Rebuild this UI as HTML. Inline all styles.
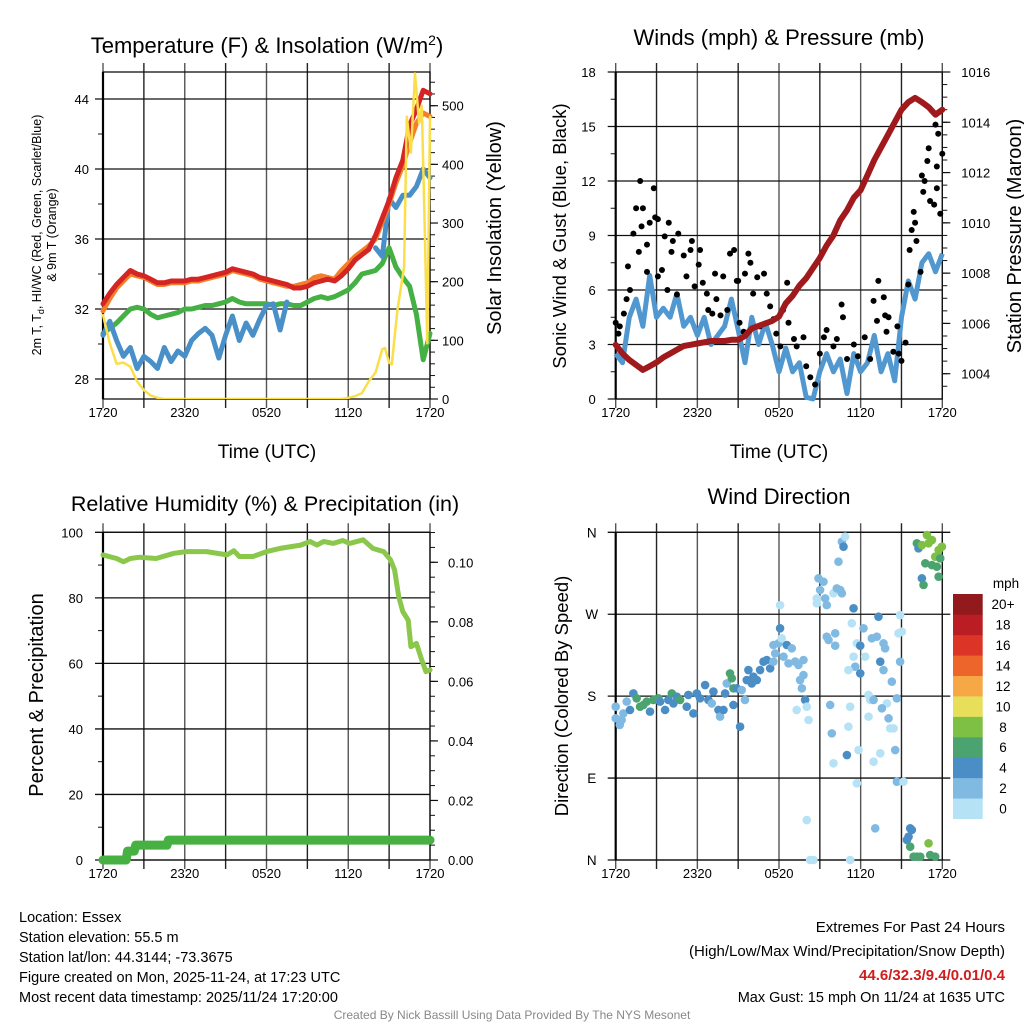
<!DOCTYPE html>
<html><head><meta charset="utf-8"><style>
html,body{margin:0;padding:0;background:#fff;}
svg{display:block;font-family:"Liberation Sans",sans-serif;}
</style></head><body>
<svg id="s" width="1024" height="1024" viewBox="0 0 1024 1024">
<g id="g"></g>
</svg>
<script>
// ---------- data ----------
const hh = [0,0.5,1,1.5,2,2.5,3,3.5,4,4.5,5,5.5,6,6.5,7,7.5,8,8.5,9,9.5,10,10.5,11,11.5,12,12.5,13,13.5,14,14.5,15,15.5,16,16.5,17,17.5,18,18.5,19,19.5,20,20.5,21,21.5,22,22.5,23,23.5,24];
const tempRed = [32.3,32.9,33.4,33.8,34.2,34.0,33.9,33.7,33.5,33.5,33.6,33.6,33.6,33.7,33.7,33.8,33.9,34.0,34.1,34.3,34.2,34.1,34.0,33.8,33.7,33.6,33.5,33.4,33.2,33.2,33.3,33.5,33.6,33.7,33.6,33.9,34.3,34.8,35.1,35.4,36.2,37.2,38.2,39.5,40.5,42.5,43.4,44.5,44.3];
const tempOrange = [31.9,32.6,33.2,33.6,34.0,33.9,33.8,33.6,33.4,33.4,33.5,33.5,33.5,33.6,33.6,33.7,33.8,33.9,34.0,34.2,34.1,34.0,33.9,33.7,33.6,33.5,33.4,33.3,33.3,33.4,33.5,33.8,33.9,33.8,33.7,34.2,34.6,35.0,35.3,35.6,36.0,37.0,38.0,39.2,40.2,41.5,42.6,43.2,43.0];
const dewGreen = [30.6,30.9,31.2,31.6,32.0,32.1,32.0,31.7,31.5,31.6,31.7,31.8,32.0,32.0,32.1,32.2,32.2,32.3,32.4,32.6,32.4,32.3,32.3,32.3,32.3,32.2,32.3,32.3,32.2,32.2,32.4,32.6,32.7,32.6,32.7,32.9,33.1,33.5,34.0,34.1,34.2,34.6,35.5,34.4,33.8,33.3,31.7,29.1,30.6];
const chillBlue = [30.5,31.3,30.2,29.3,29.8,28.6,29.3,29.0,28.6,29.8,29.0,29.6,29.3,30.2,30.6,30.9,30.5,29.2,30.5,31.6,30.2,31.2,30.5,31.4,32.2,32.3,30.8,32.4,null,null,31.6,null,31.2,null,null,null,null,31.6,null,null,35.5,35.0,38.3,37.8,38.5,38.5,39.0,40.0,39.5];
const solarH = [0,0.5,1,1.5,2,2.5,3,3.5,4,4.5,17.5,18,18.5,19,19.5,20,20.5,20.7,21,21.2,21.6,22.1,22.3,22.6,22.9,23.2,23.4,23.6,23.8,24];
const solarVal = [143,95,60,62,55,30,15,6,2,0,0,2,5,10,30,45,85,87,62,59,150,225,481,420,555,470,500,300,95,481];
const windBlue = [2.5,2.0,4.5,5.5,4.0,6.8,4.5,5.0,4.5,5.8,4.0,4.5,3.5,4.5,3.0,3.5,4.0,5.5,3.8,2.0,4.5,3.0,4.2,3.0,1.5,2.8,1.5,2.0,0.1,0.0,1.5,2.5,1.5,2.2,0.3,2.5,1.5,2.0,3.5,1.5,2.5,1.0,4.5,6.5,5.5,7.5,8.0,7.0,8.0];
const pressure = [1005.15,1004.8,1004.55,1004.35,1004.15,1004.3,1004.45,1004.65,1004.8,1004.95,1005.1,1005.15,1005.2,1005.25,1005.3,1005.3,1005.3,1005.35,1005.35,1005.5,1005.8,1005.9,1006.0,1006.1,1006.27,1006.8,1007.1,1007.5,1007.8,1008.2,1008.6,1009.1,1009.5,1010.1,1010.5,1011.0,1011.3,1011.9,1012.5,1013.0,1013.5,1014.0,1014.5,1014.8,1014.97,1014.8,1014.6,1014.3,1014.5];
const gustH = [0,0.3,0.2,0.6,0.8,0.9,1.05,1.3,1.5,1.7,1.8,2.0,1.9,2.3,2.3,2.5,2.8,2.9,3.1,3.1,3.4,3.6,3.8,3.9,4.1,4.2,4.5,4.6,5.0,5.2,5.5,5.6,5.8,6.1,6.2,6.4,6.7,6.8,7.1,7.3,7.4,7.7,7.9,8.2,8.4,8.7,8.9,9.0,9.1,9.4,9.5,9.75,9.9,10.1,10.4,10.6,10.9,11.1,11.35,11.6,11.8,12.1,12.3,12.6,12.7,13.1,13.3,13.8,14.0,14.3,14.65,15.0,15.3,15.5,16.0,16.25,16.6,16.7,17.0,17.5,17.8,18.3,18.7,18.95,19.2,19.3,19.7,19.8,19.9,20.05,20.4,20.7,20.8,21.0,21.3,21.5,21.6,21.75,22.0,21.9,22.1,22.4,22.5,22.6,22.7,22.9,23.0,23.1,23.4,23.5,23.6,23.6,23.7,23.85,24.0];
const gustVal = [4.2,4.0,3.6,4.7,5.5,7.3,6.0,9.1,10.5,8.1,12.0,10.5,9.5,8.5,7.0,9.7,11.6,10.0,9.9,6.75,7.1,8.95,6.0,9.7,8.1,8.7,5.75,9.1,7.9,6.75,8.2,8.7,6.2,7.4,8.2,6.4,5.8,4.9,4.7,6.9,5.5,4.6,6.75,4.9,8.0,8.2,6.5,6.5,4.2,3.7,6.9,8.0,7.5,5.8,6.7,4.0,6.9,5.8,5.1,4.4,3.6,2.9,4.9,6.4,4.2,3.3,2.9,3.4,1.8,1.2,0.8,2.5,3.4,3.8,2.9,3.3,5.2,4.5,2.2,3.0,2.35,3.4,2.2,5.4,4.3,6.5,5.6,4.6,3.7,4.5,2.6,4.0,2.5,2.1,3.1,6.3,8.2,9.3,9.7,10.3,8.7,7.0,12.3,11.4,12.0,13.1,13.8,10.9,10.7,15.1,12.8,11.6,14.6,10.2,13.5];
const rhH = [0,1.0,1.5,2,2.7,3.9,5.2,6.1,7.6,9.1,9.6,10,11,12,13,14.5,15.2,15.7,16.2,16.9,17.6,18.1,19.1,19.8,20.6,21.1,21.4,21.7,22.0,22.4,22.6,23,23.4,23.7,24];
const rhVal = [93.1,92,91,92,92.4,92,93.6,94.1,94.1,93.1,94.4,92.6,92.6,94.1,95.1,96.1,97.2,96.1,97.2,96.6,97.5,96.6,97.7,95.1,94.1,91.6,88.5,80.4,75.8,73.2,65.1,66.1,61,57.5,58];
const precipH = [0,1.7,1.8,2.3,2.4,4.7,4.8,24];
const precipVal = [0,0,0.003,0.003,0.005,0.005,0.0067,0.0067];
// wind direction observations: hour, degrees, speed (mph)
const dirH = [0,0,0.3,0.56,0.44,0.81,1.05,1.3,1.54,1.79,2.03,2.28,2.52,2.77,3.14,3.26,3.63,3.87,4.12,4.24,4.49,4.73,5.22,5.34,5.71,5.96,6.2,6.57,6.81,7.06,7.18,7.55,7.67,7.92,8.04,8.16,8.4,8.53,8.65,8.65,8.9,9.14,9.26,9.5,9.63,9.75,10.0,10.12,10.37,10.61,10.86,11.1,11.35,11.59,11.72,11.59,11.96,12.08,12.2,12.57,12.33,12.7,12.94,13.19,13.43,13.8,13.8,13.55,13.68,13.92,14.04,14.17,13.3,12.08,
 14.9,15.02,15.27,14.78,14.78,15.51,15.39,16.0,16.25,16.5,16.62,16.37,16.62,16.86,16.74,15.51,15.64,16.13,16.13,17.48,17.35,17.72,17.97,18.21,17.48,18.33,17.6,17.1,17.97,15.76,15.88,16.0,16.99,17.23,17.1,17.84,17.72,18.58,18.7,18.95,18.58,18.82,19.19,19.31,19.68,19.8,19.44,19.68,19.93,19.56,20.05,20.29,20.17,20.42,20.66,20.54,19.44,18.95,20.9,21.03,20.78,20.9,20.66,21.15,19.07,14.04,14.29,14.53,17.23,
 22.13,22.25,22.5,22.87,22.99,23.24,22.75,23.24,23.6,23.48,23.73,23.97,23.85,23.73,22.5,22.62,21.64,21.76,21.52,21.4,21.64,21.89,22.13,22.38,22.99,23.11,23.48];
const dirDeg = [155.6,168.4,148.3,161,153.8,174,164.8,183,177.6,168.4,170.3,174,163,175.8,177.6,174,164.8,175.8,183,172,179.4,175.8,168.4,181.3,161,183,177.6,192.2,175.8,172,185,164.8,157.5,164.8,183,194,205,199.6,188.6,170.3,188.6,146.5,186.7,175.8,197.7,208.7,194,201.4,197.7,208.7,217.9,219.7,210.5,217.9,227,236.2,238,254.5,243.5,236.2,223.4,216,232.5,218,214.2,219.7,203.2,197.7,188.6,175.8,168.4,153.8,164.8,280,
 309.4,296.6,305.7,287.4,282,280,287.4,293,298.4,296.6,293,327.7,349.7,355.2,344.2,245.3,241.7,249,235.4,276.5,260,238,235.4,254.5,223.4,223.4,212.4,208.7,205,170.3,139.1,106.2,115.3,168.4,146.5,120.8,84.2,181.3,175.8,175.8,157.5,243.5,245.3,267.3,238,232.5,217.9,208.7,172,166.6,155.6,195.9,144.6,144.6,177.6,120.8,117.2,108,269.1,250.8,249,217.9,86,86,34.8,43.9,0,0,0,
 347.9,342.4,346,357,347.9,351.5,325.9,324,322.2,333.2,340.5,344.2,331.4,311.2,309.4,302.1,34.8,33,25.6,22,14.6,3.7,3.7,3.7,18.3,5.5,3.7];
const dirSpd = [3,3,3,3,3,3,5,5,7,7,7,7,5,7,7,5,5,5,7,5,5,7,5,5,5,5,5,5,5,3,5,5,3,5,5,3,7,7,7,5,5,5,3,3,5,5,5,5,5,5,5,5,5,3,3,3,3,5,1,5,3,3,3,3,3,3,3,3,3,5,1,1,1,1,
 3,3,3,1,1,3,3,1,3,3,3,3,3,1,5,3,3,3,3,5,1,1,5,3,1,1,3,1,5,3,3,1,5,1,1,1,1,1,1,3,1,3,3,5,3,3,5,3,1,3,3,3,1,1,3,3,1,1,1,1,1,3,3,1,3,1,1,1,1,
 7,5,9,9,9,9,7,7,7,9,9,9,7,7,5,7,5,5,5,5,7,7,7,7,9,7,7];
const binColors = ['#b6e2f6','#80bae3','#4b8ec5','#4ba46f','#7dc043','#e7df5a','#f5a845','#ee652b','#dc3528','#bb1d25','#921a1d'];
const binLabels = ['0','2','4','6','8','10','12','14','16','18','20+'];
const timeTickLabels = ['1720','2320','0520','1120','1720'];

// ---------- helpers ----------
const NS='http://www.w3.org/2000/svg';
const G=document.getElementById('g');
function mk(tag,attrs,parent){const e=document.createElementNS(NS,tag);for(const k in attrs)e.setAttribute(k,attrs[k]);(parent||G).appendChild(e);return e;}
function txt(x,y,s,size,anchor,extra){const t=mk('text',Object.assign({x:x,y:y,'font-size':size,'text-anchor':anchor||'middle',fill:'#000'},extra||{}));t.textContent=s;return t;}
function scale(d0,d1,r0,r1){return v=>r0+(v-d0)*(r1-r0)/(d1-d0);}
function linePath(xs,ys,fx,fy){let d='',pen=false;for(let i=0;i<xs.length;i++){if(ys[i]===null||ys[i]===undefined){pen=false;continue;}d+=(pen?'L':'M')+fx(xs[i]).toFixed(1)+','+fy(ys[i]).toFixed(1);pen=true;}return d;}

const X0=103,X1=430,RX0=615.7,RX1=942.3;
function frame(name,x0,x1,y0,y1,leftTicks,fyL,leftMinor,rightTicks,fyR,rightMinor){
  const g=mk('g',{});
  
  
  const fx=scale(0,24,x0,x1);
  for(let k=0;k<=8;k++){const x=fx(k*3);
    const l=mk('line',{x1:x,x2:x,y1:y0-9,y2:y1+9,stroke:(k%2?'#222':'#555'),'stroke-width':1.4},g);
    
    }
  leftTicks.forEach(v=>{const y=fyL(v);mk('line',{x1:x0-8,x2:x1+(rightTicks?0:8),y1:y,y2:y,stroke:'#111','stroke-width':1.3},g);});
  (leftMinor||[]).forEach(v=>{const y=fyL(v);mk('line',{x1:x0-5,x2:x0,y1:y,y2:y,stroke:'#111','stroke-width':1},g);});
  if(rightTicks){rightTicks.forEach(v=>{const y=fyR(v);mk('line',{x1:x1,x2:x1+8,y1:y,y2:y,stroke:'#111','stroke-width':1.2},g);});
    (rightMinor||[]).forEach(v=>{const y=fyR(v);mk('line',{x1:x1,x2:x1+5,y1:y,y2:y,stroke:'#111','stroke-width':1},g);});}
  mk('rect',{x:x0,y:y0,width:x1-x0,height:y1-y0,fill:'none',stroke:'#111','stroke-width':1.3},g);
  mk('line',{x1:x0,x2:x0,y1:y0,y2:y1,stroke:'#000','stroke-width':2.2},g);
  timeTickLabels.forEach((s,i)=>{const t=txt(fx(i*6),y1+18,s,13);});
  return fx;
}
function range(a,b,s){const r=[];for(let v=a;v<=b+1e-9;v+=s)r.push(+v.toFixed(4));return r;}

// ---------- Panel 1: Temperature ----------
(function(){
  const y0=72,y1=399;
  const fyT=scale(28,44,379,99), fyS=scale(0,500,399,105.7);
  const fx=frame('temperature',X0,X1,y0,y1,[28,32,36,40,44],fyT,[30,34,38,42],range(0,500,100),fyS,range(0,540,20));
  [28,32,36,40,44].forEach(v=>{const t=txt(X0-14,fyT(v)+5,String(v),13,'end');});
  range(0,500,100).forEach(v=>{const t=txt(X1+12,fyS(v)+5,String(v),13,'start');});
  const cp=mk('clipPath',{id:'c1'});mk('rect',{x:X0-4,y:y0,width:X1-X0+8,height:y1-y0},cp);
  const lines=[['dewpoint-line',hh,dewGreen,fyT,'#45b043',5],['wind-chill-line',hh,chillBlue,fyT,'#4a90c8',5],['temp-9m-line',hh,tempOrange,fyT,'#f47f2b',5],['temp-2m-line',hh,tempRed,fyT,'#d42423',5],['solar-line',solarH,solarVal,fyS,'#fadf4a',2.5]];
  lines.forEach(L=>{const p=mk('path',{d:linePath(L[1],L[2],fx,L[3]),fill:'none',stroke:L[4],'stroke-width':L[5],'stroke-linejoin':'round','stroke-linecap':'round','clip-path':'url(#c1)'});
    });
  const t=txt(267,53,'Temperature (F) & Insolation (W/m',22);
  const ts=mk('tspan',{dy:-8,'font-size':14},t);ts.textContent='2';const te=mk('tspan',{dy:8},t);te.textContent=')';
  const yl=mk('text',{transform:'translate(41,235) rotate(-90)','font-size':12.5,'text-anchor':'middle'});
  
  yl.innerHTML='2m T, T<tspan font-size="9" dy="3">d</tspan><tspan dy="-3">, HI/WC (Red, Green, Scarlet/Blue)</tspan>';
  const yl2=txt(0,0,'& 9m T (Orange)',12.5,'middle',{transform:'translate(56,235) rotate(-90)'});
  const yr=txt(0,0,'Solar Insolation (Yellow)',20,'middle',{transform:'translate(501,228) rotate(-90)'});
  const xl=txt(267,458,'Time (UTC)',19);
})();

// ---------- Panel 2: Winds ----------
(function(){
  const y0=72,y1=399;
  const fyW=scale(0,18,399,72), fyP=scale(1004,1016,373.7,72);
  const fx=frame('winds',RX0,RX1,y0,y1,range(0,18,3),fyW,range(1.5,16.5,3),range(1004,1016,2),fyP,range(1003.5,1016,0.5));
  range(0,18,3).forEach(v=>{const t=txt(RX0-20,fyW(v)+5,String(v),13,'end');});
  range(1004,1016,2).forEach(v=>{const t=txt(RX1+19,fyP(v)+5,String(v),13,'start');});
  const p=mk('path',{d:linePath(hh,windBlue,fx,fyW),fill:'none',stroke:'#5298d0','stroke-width':5,'stroke-linejoin':'round'});
  
  gustH.forEach((h,i)=>{const c=mk('circle',{cx:fx(h),cy:fyW(gustVal[i]),r:3,fill:'#000'});
    });
  const pp=mk('path',{d:linePath(hh,pressure,fx,fyP),fill:'none',stroke:'#a01a1d','stroke-width':6,'stroke-linejoin':'round','stroke-linecap':'round'});
  
  const t=txt(779,45,'Winds (mph) & Pressure (mb)',22);
  const yl=txt(0,0,'Sonic Wind & Gust (Blue, Black)',18.5,'middle',{transform:'translate(566,236) rotate(-90)'});
  const yr=txt(0,0,'Station Pressure (Maroon)',20,'middle',{transform:'translate(1021,236) rotate(-90)'});
  const xl=txt(779,458,'Time (UTC)',19);
})();

// ---------- Panel 3: RH ----------
(function(){
  const y0=532.3,y1=860;
  const fyR=scale(0,100,860,532.3), fyP=scale(0,0.1,860,562.3);
  const fx=frame('humidity',X0,X1,y0,y1,range(0,100,20),fyR,range(10,90,20),range(0,0.1,0.02),fyP,range(0,0.11,0.005));
  range(0,100,20).forEach(v=>{const t=txt(X0-20,fyR(v)+5,String(v),13,'end');});
  range(0,0.1,0.02).forEach(v=>{const t=txt(X1+18,fyP(v)+5,v.toFixed(2),13,'start');});
  const rp=mk('path',{d:linePath(rhH,rhVal,fx,fyR),fill:'none',stroke:'#8ac74a','stroke-width':5,'stroke-linejoin':'round','stroke-linecap':'round'});
  
  const pp=mk('path',{d:linePath(precipH,precipVal,fx,fyP),fill:'none',stroke:'#46b043','stroke-width':9,'stroke-linejoin':'round','stroke-linecap':'round'});
  
  const t=txt(265,511,'Relative Humidity (%) & Precipitation (in)',21.5);
  const yl=txt(0,0,'Percent & Precipitation',20,'middle',{transform:'translate(43,695) rotate(-90)'});
})();

// ---------- Panel 4: Wind direction ----------
(function(){
  const y0=532.3,y1=860;
  const fyD=scale(0,360,860,532.3);
  const fx=frame('direction',RX0,RX1,y0,y1,[0,90,180,270,360],fyD,null,null,null,null);
  ['N','E','S','W','N'].forEach((s,i)=>{const t=txt(RX0-24,fyD(i*90)+5,s,13.5,'middle');});
  const n=Math.min(dirH.length,dirDeg.length,dirSpd.length);
  for(let i=0;i<n;i++){const c=mk('circle',{cx:fx(dirH[i]),cy:fyD(dirDeg[i]),r:4.3,fill:binColors[Math.min(10,Math.floor(dirSpd[i]/2))]});
    }
  const t=txt(779,504,'Wind Direction',22);
  const yl=txt(0,0,'Direction (Colored By Speed)',18.5,'middle',{transform:'translate(568,696) rotate(-90)'});
  const lg=mk('g',{});
  const bh=(818.7-594)/11;
  binColors.forEach((c,i)=>{const y=818.7-(i+1)*bh;
    const r=mk('rect',{x:953,y:y,width:29.7,height:bh+0.3,fill:c},lg);
    const tl=txt(1003,y+bh/2+5,binLabels[i],13.5,'middle');});
  const m=txt(1006,588,'mph',13.5,'middle');
})();

// ---------- Footer ----------
const leftLines=['Location: Essex','Station elevation: 55.5 m','Station lat/lon: 44.3144; -73.3675','Figure created on Mon, 2025-11-24, at 17:23 UTC','Most recent data timestamp: 2025/11/24 17:20:00'];
leftLines.forEach((s,i)=>{const t=txt(19,922+i*20,s,14.5,'start');});
[['Extremes For Past 24 Hours',932],['(High/Low/Max Wind/Precipitation/Snow Depth)',956]].forEach(a=>{const t=txt(1005,a[1],a[0],15,'end');});
const ex=txt(1005,980,'44.6/32.3/9.4/0.01/0.4',15,'end',{fill:'#d01c1c','font-weight':'bold'});
const mg=txt(1005,1002,'Max Gust: 15 mph On 11/24 at 1635 UTC',14.5,'end');
const cr=txt(512,1019,'Created By Nick Bassill Using Data Provided By The NYS Mesonet',12,'middle',{fill:'#888'});
</script>
</body></html>
